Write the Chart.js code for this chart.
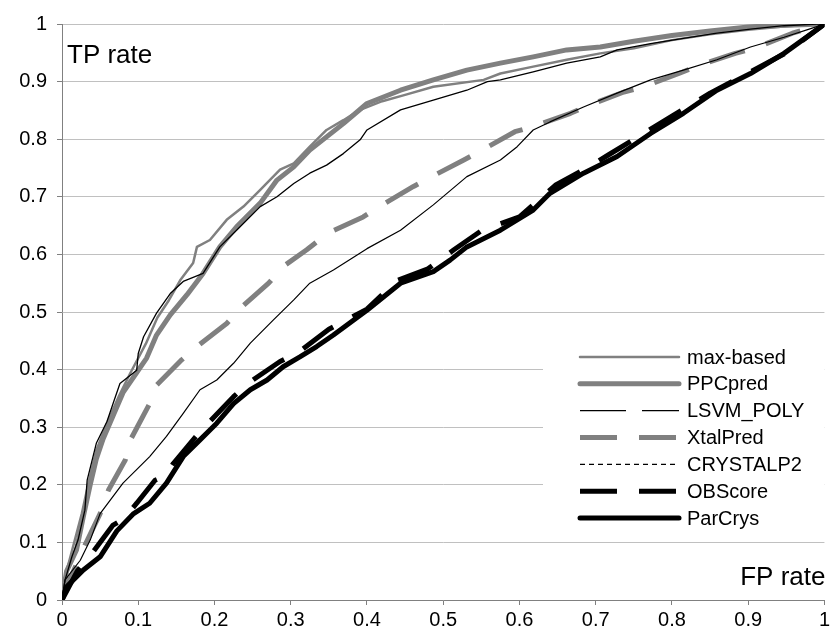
<!DOCTYPE html>
<html>
<head>
<meta charset="utf-8">
<script src="https://cdn.jsdelivr.net/npm/chart.js@4/dist/chart.umd.min.js"></script>
<style>
html,body{margin:0;padding:0;background:#fff;}
canvas{display:block;}
</style>
</head>
<body>
<canvas id="c" width="833" height="637"></canvas>
<script>
// ---------- data ----------
const seriesNames = ['max-based','PPCpred','LSVM_POLY','XtalPred','CRYSTALP2','OBScore','ParCrys'];
const tickValues = [0,0.1,0.2,0.3,0.4,0.5,0.6,0.7,0.8,0.9,1];
const tickLabels = ['0','0.1','0.2','0.3','0.4','0.5','0.6','0.7','0.8','0.9','1'];
const xAxisTitle = 'FP rate';
const yAxisTitle = 'TP rate';

const maxBasedFP = [0,0.005,0.015,0.026,0.035,0.045,0.06,0.075,0.09,0.11,0.125,0.14,0.155,0.172,0.177,0.194,0.216,0.238,0.26,0.286,0.304,0.325,0.347,0.369,0.391,0.42,0.45,0.487,0.553,0.575,0.618,0.662,0.706,0.75,0.8,0.85,0.9,0.95,1];
const maxBasedTP = [0,0.045,0.095,0.15,0.205,0.26,0.31,0.355,0.395,0.445,0.49,0.52,0.555,0.585,0.613,0.625,0.66,0.683,0.712,0.747,0.758,0.787,0.816,0.833,0.851,0.866,0.877,0.891,0.903,0.914,0.926,0.938,0.949,0.958,0.972,0.982,0.99,0.996,1];

const ppcFP = [0,0.006,0.019,0.028,0.037,0.045,0.054,0.067,0.08,0.098,0.111,0.124,0.142,0.164,0.185,0.207,0.229,0.26,0.282,0.304,0.325,0.347,0.369,0.4,0.444,0.487,0.531,0.575,0.618,0.662,0.706,0.75,0.8,0.85,0.9,0.95,1];
const ppcTP = [0,0.05,0.087,0.145,0.2,0.245,0.28,0.32,0.36,0.395,0.42,0.46,0.495,0.53,0.567,0.613,0.648,0.689,0.729,0.752,0.781,0.804,0.827,0.862,0.885,0.903,0.92,0.932,0.943,0.955,0.96,0.97,0.98,0.988,0.995,0.998,1];

const lsvmFP = [0,0.004,0.013,0.021,0.03,0.033,0.045,0.059,0.067,0.076,0.098,0.1,0.107,0.124,0.142,0.159,0.185,0.207,0.229,0.26,0.282,0.304,0.325,0.347,0.369,0.391,0.4,0.444,0.487,0.531,0.558,0.575,0.618,0.662,0.706,0.728,0.772,0.815,0.859,0.903,0.947,0.99,1];
const lsvmTP = [0,0.035,0.075,0.104,0.156,0.208,0.272,0.31,0.341,0.376,0.399,0.428,0.457,0.498,0.532,0.553,0.567,0.613,0.642,0.683,0.7,0.723,0.741,0.755,0.775,0.799,0.816,0.851,0.868,0.885,0.9,0.903,0.917,0.932,0.943,0.955,0.966,0.975,0.984,0.991,0.997,1,1];

const xtalFP = [0,0.01,0.03,0.05,0.061,0.083,0.091,0.115,0.124,0.157,0.177,0.216,0.236,0.271,0.29,0.321,0.349,0.395,0.42,0.461,0.485,0.527,0.551,0.594,0.618,0.667,0.691,0.737,0.763,0.809,0.837,0.883,0.909,0.958,1];
const xtalTP = [0,0.035,0.095,0.15,0.191,0.243,0.281,0.341,0.373,0.417,0.44,0.48,0.509,0.55,0.579,0.608,0.637,0.665,0.686,0.718,0.735,0.764,0.781,0.813,0.822,0.845,0.859,0.882,0.891,0.914,0.929,0.949,0.958,0.984,1];

const crystFP = [0,0.004,0.024,0.037,0.05,0.08,0.115,0.137,0.159,0.181,0.203,0.225,0.247,0.277,0.304,0.325,0.356,0.4,0.444,0.487,0.531,0.575,0.597,0.618,0.64,0.684,0.728,0.772,0.815,0.859,0.903,0.947,0.982,1];
const crystTP = [0,0.035,0.069,0.104,0.15,0.203,0.249,0.284,0.324,0.365,0.382,0.411,0.446,0.486,0.521,0.55,0.573,0.61,0.642,0.686,0.735,0.764,0.787,0.816,0.83,0.856,0.88,0.903,0.92,0.938,0.96,0.977,0.992,1];

const obFP = [0,0.02,0.041,0.067,0.08,0.098,0.122,0.135,0.146,0.177,0.185,0.194,0.225,0.235,0.247,0.286,0.31,0.35,0.4,0.44,0.48,0.514,0.551,0.6,0.647,0.691,0.717,0.759,0.8,0.85,0.9,0.95,1];
const obTP = [0,0.05,0.084,0.13,0.14,0.168,0.208,0.215,0.237,0.286,0.295,0.31,0.353,0.365,0.379,0.414,0.43,0.47,0.505,0.555,0.575,0.608,0.642,0.665,0.72,0.752,0.773,0.807,0.84,0.88,0.915,0.95,1];

const parFP = [0,0.006,0.028,0.05,0.072,0.094,0.115,0.137,0.159,0.181,0.203,0.225,0.247,0.269,0.29,0.312,0.334,0.356,0.4,0.444,0.487,0.509,0.531,0.575,0.618,0.64,0.684,0.728,0.772,0.815,0.859,0.903,0.947,0.99,1];
const parTP = [0,0.023,0.052,0.075,0.12,0.15,0.168,0.203,0.249,0.278,0.307,0.341,0.365,0.382,0.405,0.422,0.44,0.46,0.503,0.55,0.57,0.59,0.613,0.642,0.677,0.706,0.741,0.77,0.81,0.845,0.885,0.914,0.949,0.99,1];

// ---------- styles ----------
const FONT = "'Liberation Sans', Arial, sans-serif";
const GRAY = '#808080';
const styles = [
  {color: GRAY,   width: 2.5, plotDash: [],      legendDash: [],      cap: 'round'},
  {color: GRAY,   width: 5,   plotDash: [],      legendDash: [],      cap: 'round'},
  {color: '#000', width: 1.3, plotDash: [],      legendDash: [46,16], cap: 'butt'},
  {color: GRAY,   width: 5,   plotDash: [37,22], legendDash: [37,22], cap: 'butt'},
  {color: '#000', width: 1.2, plotDash: [],      legendDash: [5,4],   cap: 'butt'},
  {color: '#000', width: 5,   plotDash: [37,22], legendDash: [37,22], cap: 'butt'},
  {color: '#000', width: 5,   plotDash: [],      legendDash: [],      cap: 'round'}
];
const fpSets = [maxBasedFP, ppcFP, lsvmFP, xtalFP, crystFP, obFP, parFP];
const tpSets = [maxBasedTP, ppcTP, lsvmTP, xtalTP, crystTP, obTP, parTP];

const datasets = seriesNames.map((name, i) => ({
  label: name,
  data: fpSets[i].map((x, k) => ({x: x, y: tpSets[i][k]})),
  borderColor: styles[i].color,
  borderWidth: styles[i].width,
  borderDash: styles[i].plotDash,
  borderCapStyle: styles[i].cap,
  borderJoinStyle: 'round',
  pointRadius: 0,
  fill: false,
  tension: 0,
  order: seriesNames.length - i
}));

// ---------- plugins ----------
const insideLegend = {
  id: 'insideLegend',
  afterDatasetsDraw(chart) {
    const ctx = chart.ctx;
    const area = chart.chartArea;
    ctx.save();
    ctx.fillStyle = '#ffffff';
    ctx.fillRect(543, 342, area.right - 543, 194);
    seriesNames.forEach((name, i) => {
      const y = 357 + i * 26.85;
      const s = styles[i];
      ctx.beginPath();
      ctx.strokeStyle = s.color;
      ctx.lineWidth = s.width;
      ctx.lineCap = s.cap;
      ctx.setLineDash(s.legendDash);
      ctx.moveTo(580, y);
      ctx.lineTo(679, y);
      ctx.stroke();
      ctx.setLineDash([]);
      ctx.fillStyle = '#000';
      ctx.font = '20px ' + FONT;
      ctx.textAlign = 'left';
      ctx.textBaseline = 'middle';
      ctx.fillText(name, 687, y + 1);
    });
    ctx.restore();
  },
  afterDraw(chart) {
    const ctx = chart.ctx;
    const area = chart.chartArea;
    ctx.save();
    ctx.fillStyle = '#000';
    ctx.font = '26px ' + FONT;
    ctx.textBaseline = 'alphabetic';
    ctx.textAlign = 'left';
    ctx.fillText(yAxisTitle, area.left + 5, 63);
    ctx.textAlign = 'right';
    ctx.fillText(xAxisTitle, area.right + 1, 585);
    ctx.restore();
  }
};

new Chart(document.getElementById('c'), {
  type: 'line',
  data: {datasets: datasets},
  options: {
    responsive: false,
    animation: false,
    devicePixelRatio: 1,
    layout: {padding: {top: 24, right: 8, left: 0, bottom: 0}},
    plugins: {legend: {display: false}, tooltip: {enabled: false}},
    scales: {
      x: {
        type: 'linear', min: 0, max: 1,
        afterBuildTicks: (s) => { s.ticks = tickValues.map(v => ({value: v})); },
        afterFit: (s) => { s.height = 37; },
        ticks: {
          autoSkip: false, maxRotation: 0, color: '#000', padding: 3,
          font: {family: FONT, size: 20},
          callback: (v) => tickLabels[tickValues.indexOf(v)] ?? ''
        },
        grid: {drawOnChartArea: false, drawTicks: true, tickLength: 5, tickColor: GRAY, color: GRAY},
        border: {display: true, color: GRAY, width: 1}
      },
      y: {
        type: 'linear', min: 0, max: 1,
        afterBuildTicks: (s) => { s.ticks = tickValues.map(v => ({value: v})); },
        afterFit: (s) => { s.width = 62; },
        ticks: {
          autoSkip: false, color: '#000', padding: 10,
          font: {family: FONT, size: 20},
          callback: (v) => tickLabels[tickValues.indexOf(v)] ?? ''
        },
        grid: {drawOnChartArea: true, drawTicks: true, tickLength: 5, tickColor: GRAY, color: '#c0c0c0', lineWidth: 1},
        border: {display: true, color: GRAY, width: 1}
      }
    }
  },
  plugins: [insideLegend]
});
</script>
</body>
</html>
